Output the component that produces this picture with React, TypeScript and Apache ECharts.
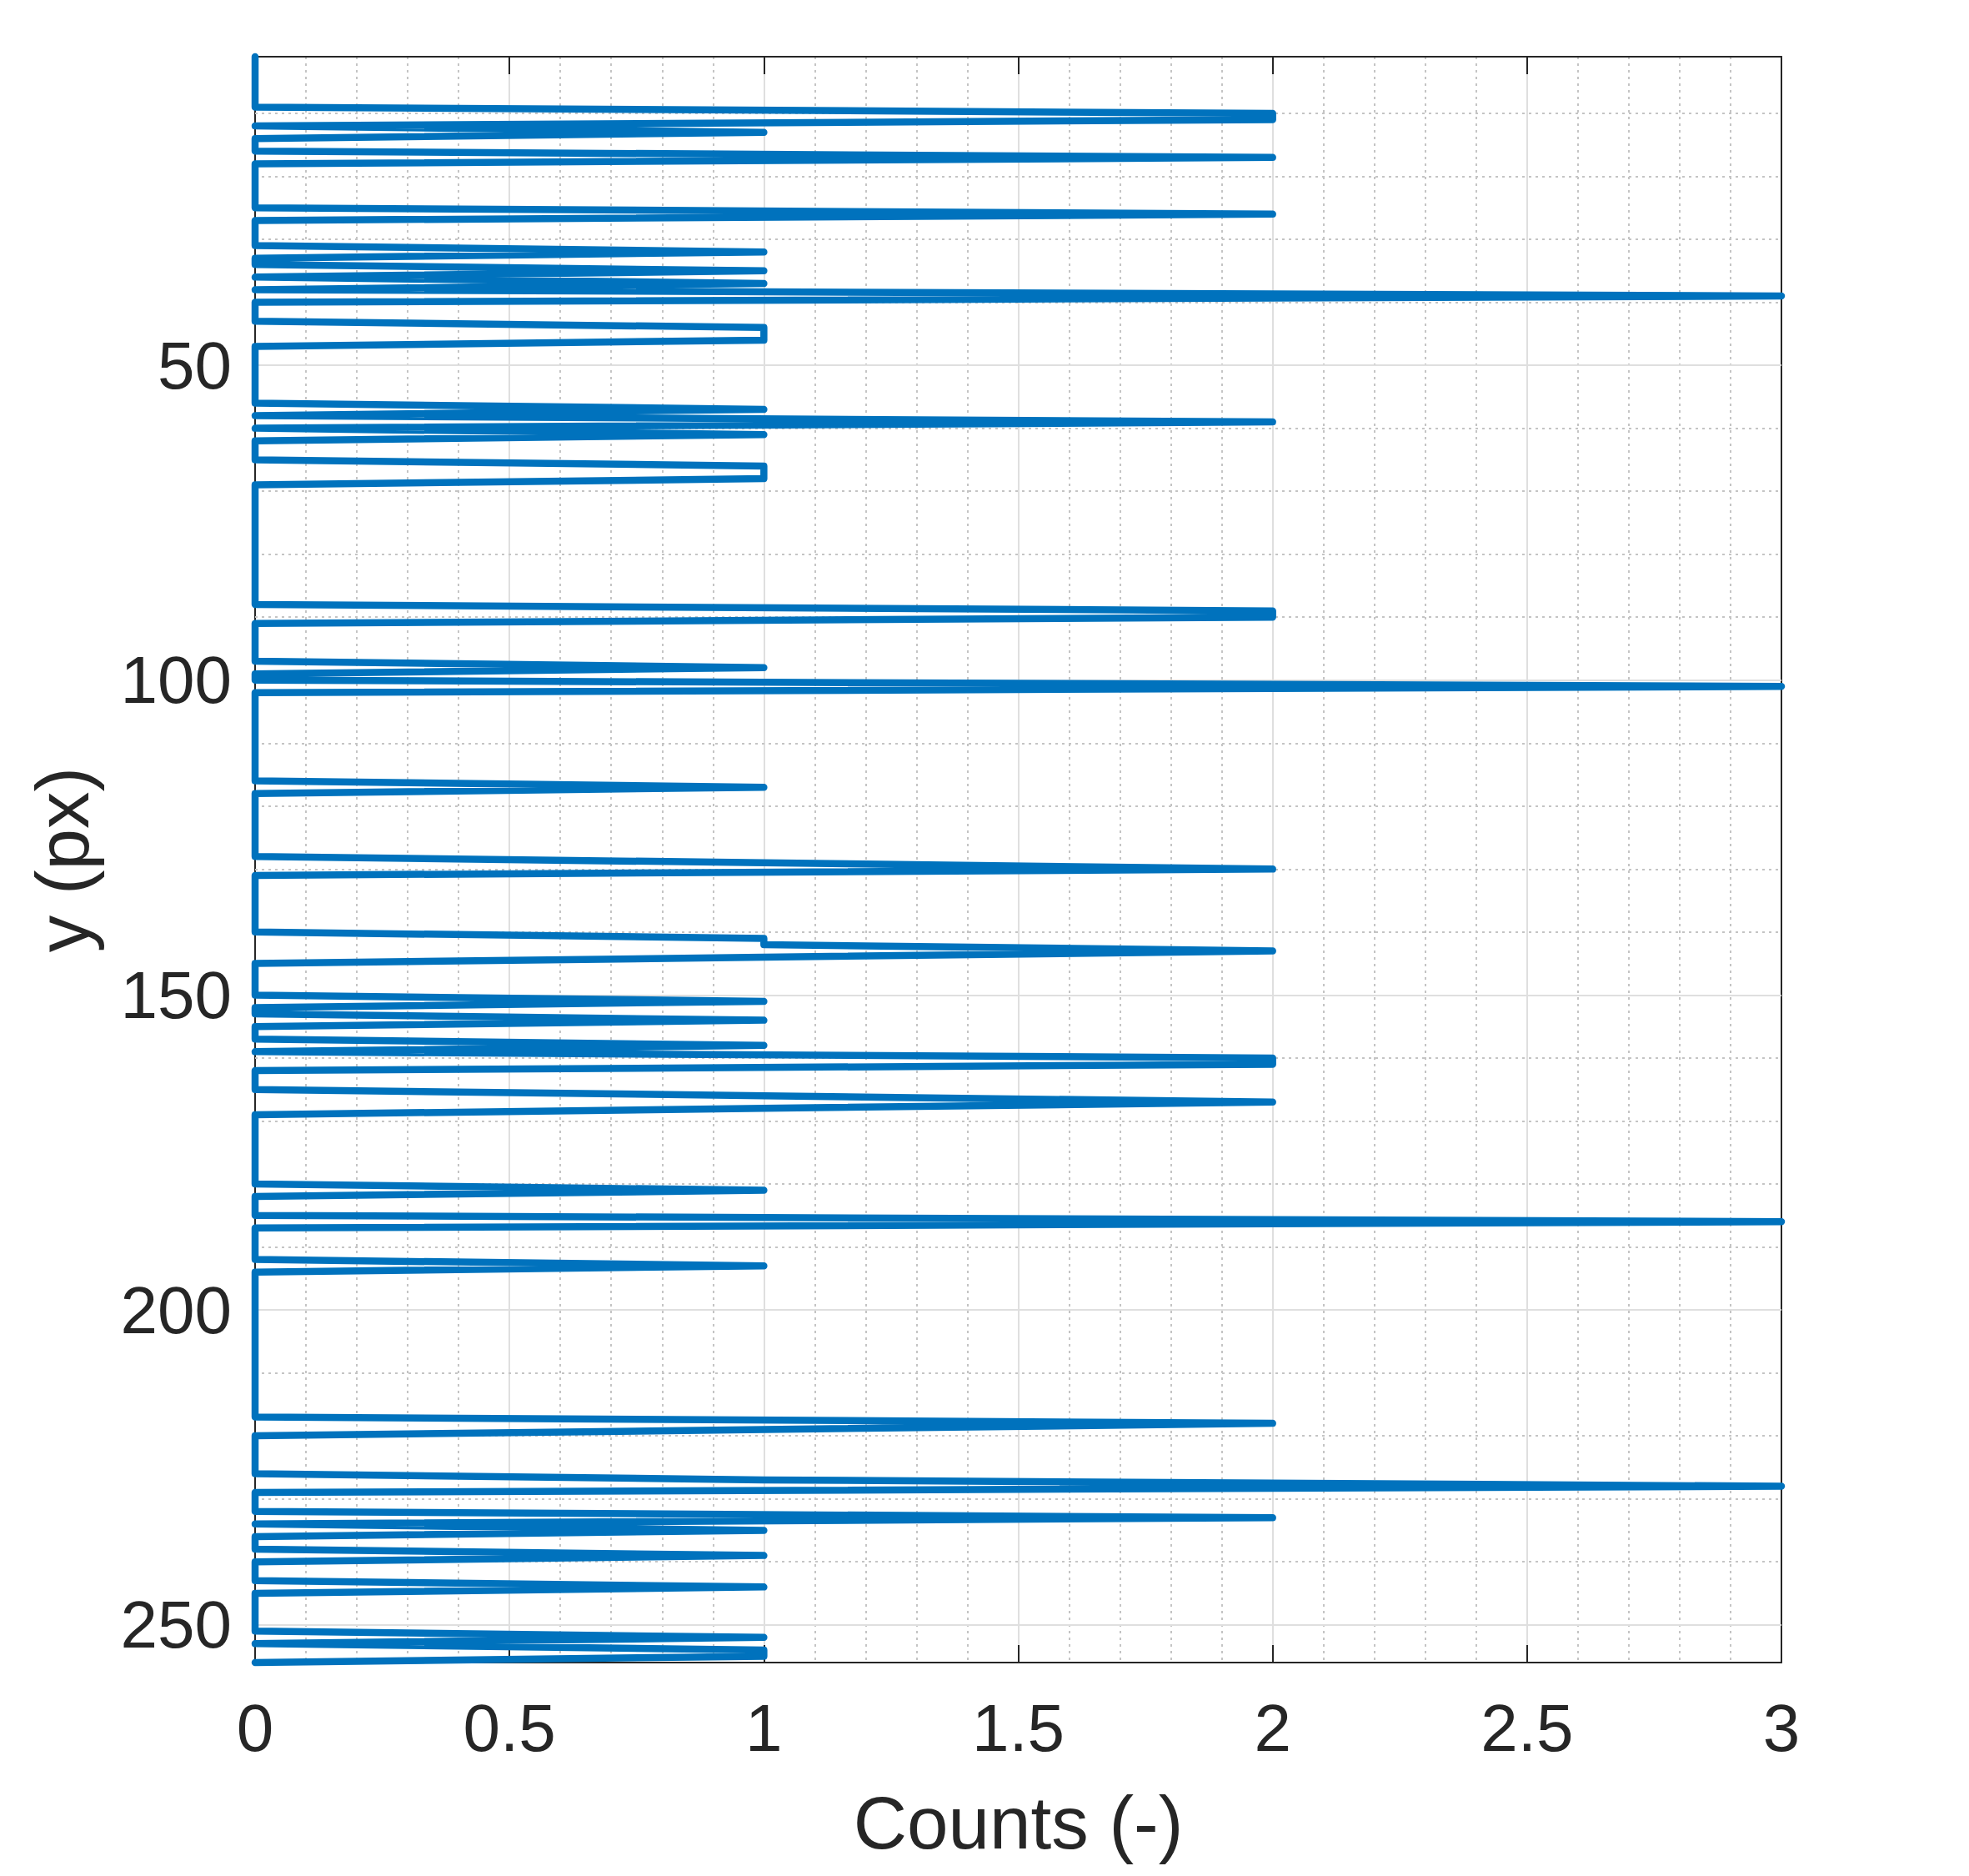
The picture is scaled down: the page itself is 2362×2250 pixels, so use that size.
import React, { useEffect, useRef } from "react";
import * as echarts from "echarts";

// Counts per pixel row (rows 1..256), ten rows per line
const counts: number[] = [
  0, 0, 0, 0, 0, 0, 0, 0, 0, 2, // 1-10
  2, 0, 1, 0, 0, 0, 2, 0, 0, 0, // 11-20
  0, 0, 0, 0, 0, 2, 0, 0, 0, 0, // 21-30
  0, 1, 0, 0, 1, 0, 1, 0, 3, 0, // 31-40
  0, 0, 0, 1, 1, 1, 0, 0, 0, 0, // 41-50
  0, 0, 0, 0, 0, 0, 1, 0, 2, 0, // 51-60
  1, 0, 0, 0, 0, 1, 1, 1, 0, 0, // 61-70
  0, 0, 0, 0, 0, 0, 0, 0, 0, 0, // 71-80
  0, 0, 0, 0, 0, 0, 0, 0, 2, 2, // 81-90
  0, 0, 0, 0, 0, 0, 0, 1, 0, 0, // 91-100
  3, 0, 0, 0, 0, 0, 0, 0, 0, 0, // 101-110
  0, 0, 0, 0, 0, 0, 1, 0, 0, 0, // 111-120
  0, 0, 0, 0, 0, 0, 0, 0, 1, 2, // 121-130
  0, 0, 0, 0, 0, 0, 0, 0, 0, 0, // 131-140
  1, 1, 2, 1, 0, 0, 0, 0, 0, 0, // 141-150
  1, 0, 0, 1, 0, 0, 0, 1, 0, 2, // 151-160
  2, 0, 0, 0, 0, 1, 2, 1, 0, 0, // 161-170
  0, 0, 0, 0, 0, 0, 0, 0, 0, 0, // 171-180
  1, 0, 0, 0, 0, 3, 0, 0, 0, 0, // 181-190
  0, 0, 1, 0, 0, 0, 0, 0, 0, 0, // 191-200
  0, 0, 0, 0, 0, 0, 0, 0, 0, 0, // 201-210
  0, 0, 0, 0, 0, 0, 0, 2, 1, 0, // 211-220
  0, 0, 0, 0, 0, 0, 1, 3, 0, 0, // 221-230
  0, 0, 2, 0, 1, 0, 0, 0, 1, 0, // 231-240
  0, 0, 0, 1, 0, 0, 0, 0, 0, 0, // 241-250
  0, 1, 0, 1, 1, 0,             // 251-256
];
const firstRow = 1;
const lastRow = 256;

const yTickValues = [50, 100, 150, 200, 250];
const yMinorGrid = [
  10, 20, 30, 40, 60, 70, 80, 90, 110, 120, 130, 140, 160, 170, 180, 190,
  210, 220, 230, 240,
];
const xMin = 0;
const xMax = 3;
const xInterval = 0.5;

const xLabel = "Counts (-)";
const yLabel = "y (px)";

const AXIS_COLOR = "#262626";
const FONT = "'Liberation Sans', Arial, Helvetica, sans-serif";

export default function App() {
  const ref = useRef<HTMLDivElement>(null);

  useEffect(() => {
    if (!ref.current) return;
    const chart = echarts.init(ref.current, undefined, { renderer: "svg" });

    const lineData = counts.map((c, i) => [c, firstRow + i]);

    const axisLine = { show: true, onZero: false, lineStyle: { color: AXIS_COLOR, width: 2 } };
    const tick = { show: true, inside: true, length: 21, lineStyle: { color: AXIS_COLOR, width: 2 } };

    const option: any = {
      animation: false,
      backgroundColor: "#ffffff",
      textStyle: { fontFamily: FONT },
      grid: { left: 306, right: 225, top: 68, bottom: 256, containLabel: false },
      xAxis: [
        {
          type: "value",
          min: xMin,
          max: xMax,
          interval: xInterval,
          position: "bottom",
          name: xLabel,
          nameLocation: "middle",
          nameGap: 147,
          nameTextStyle: { fontSize: 89, color: AXIS_COLOR, fontFamily: FONT },
          axisLine,
          axisTick: tick,
          axisLabel: { fontSize: 80, color: AXIS_COLOR, margin: 38, fontFamily: FONT },
          splitLine: { show: true, lineStyle: { color: "#dfdfdf", width: 2 } },
          minorTick: { show: false, splitNumber: 5 },
          minorSplitLine: { show: true, lineStyle: { color: "#c4c4c4", width: 2, type: [3, 5] } },
        },
        {
          type: "value",
          min: xMin,
          max: xMax,
          interval: xInterval,
          position: "top",
          axisLine,
          axisTick: tick,
          axisLabel: { show: false },
          splitLine: { show: false },
        },
      ],
      yAxis: [
        {
          type: "value",
          min: firstRow,
          max: lastRow,
          inverse: true,
          position: "left",
          name: yLabel,
          nameLocation: "middle",
          nameGap: 187,
          nameTextStyle: { fontSize: 89, color: AXIS_COLOR, fontFamily: FONT },
          axisLine,
          axisTick: { ...tick, customValues: yTickValues },
          axisLabel: { fontSize: 80, color: AXIS_COLOR, margin: 28, fontFamily: FONT, customValues: yTickValues },
          splitLine: { show: false },
        },
        {
          type: "value",
          min: firstRow,
          max: lastRow,
          inverse: true,
          position: "right",
          axisLine,
          axisTick: { ...tick, customValues: yTickValues },
          axisLabel: { show: false, customValues: yTickValues },
          splitLine: { show: false },
        },
      ],
      series: [
        {
          type: "line",
          xAxisIndex: 0,
          yAxisIndex: 0,
          z: 1,
          data: [[xMin, firstRow]],
          symbol: "none",
          lineStyle: { opacity: 0 },
          silent: true,
          markLine: {
            z: 1,
            silent: true,
            symbol: ["none", "none"],
            label: { show: false },
            animation: false,
            data: [
              ...yMinorGrid.map((v) => ({
                yAxis: v,
                lineStyle: { color: "#c4c4c4", width: 2, type: [3, 5] },
              })),
              ...yTickValues.map((v) => ({
                yAxis: v,
                lineStyle: { color: "#dfdfdf", width: 2, type: "solid" },
              })),
            ],
          },
        },
        {
          type: "line",
          xAxisIndex: 0,
          yAxisIndex: 0,
          z: 3,
          data: lineData,
          symbol: "none",
          showSymbol: false,
          clip: false,
          lineStyle: { color: "#0072BD", width: 8.5, cap: "round", join: "round" },
          emphasis: { disabled: true },
        },
      ],
    };

    chart.setOption(option);
    return () => chart.dispose();
  }, []);

  return (
    <div
      ref={ref}
      style={{ position: "absolute", left: 0, top: 0, width: "2362px", height: "2250px" }}
    />
  );
}
